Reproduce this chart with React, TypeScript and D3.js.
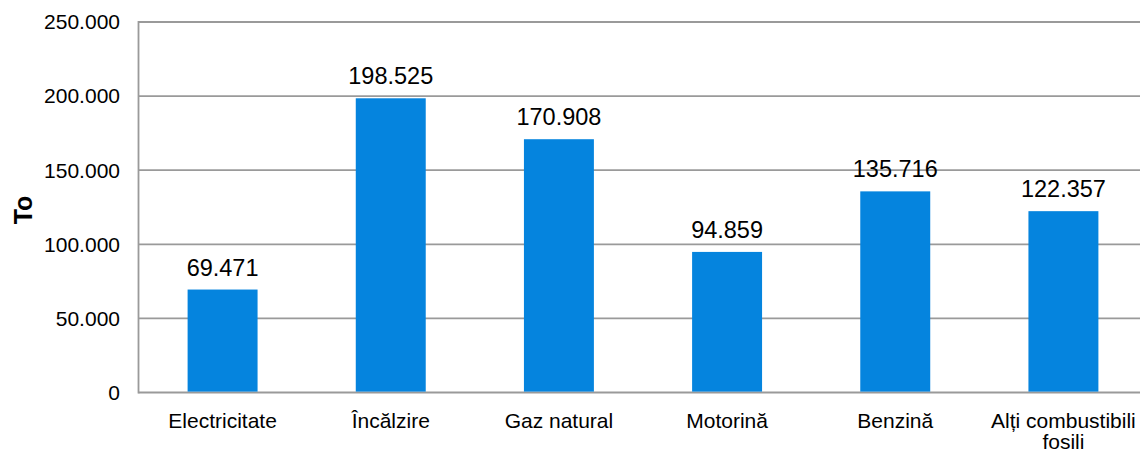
import React from "react";
import * as d3 from "d3";

const categories = ["Electricitate", "Încălzire", "Gaz natural", "Motorină", "Benzină", "Alți combustibili fosili"];
const categoryLines = [["Electricitate"], ["Încălzire"], ["Gaz natural"], ["Motorină"], ["Benzină"], ["Alți combustibili", "fosili"]];
const values = [69471, 198525, 170908, 94859, 135716, 122357];
const yTicks = [0, 50000, 100000, 150000, 200000, 250000];
const yLabel = "To";

const W = 1140;
const H = 452;
const FONT = "'Liberation Sans', Arial, Helvetica, sans-serif";

const fmt = (v: number) => {
  if (v === 0) return "0";
  const s = Math.round(v).toString();
  return s.replace(/\B(?=(\d{3})+(?!\d))/g, ".");
};

export default function App() {
  const x = d3
    .scaleBand<string>()
    .domain(categories)
    .range([138.5, 1147.5])
    .paddingInner(0.584)
    .paddingOuter(0.292);
  const y = d3.scaleLinear().domain([0, 250000]).range([392.5, 22]);
  const left = 138.5;

  return (
    <svg
      width={W}
      height={H}
      viewBox={`0 0 ${W} ${H}`}
      style={{ position: "absolute", left: 0, top: 0, background: "#fff" }}
      fontFamily={FONT}
    >
      {yTicks.map((t) => (
        <g key={t}>
          <line x1={left} x2={W} y1={y(t)} y2={y(t)} stroke="#9a9a9a" strokeWidth={1.8} />
          <text x={120} y={y(t)} dy="0.35em" textAnchor="end" fontSize={21} fill="#000">
            {fmt(t)}
          </text>
        </g>
      ))}
      <line x1={left} x2={left} y1={y(250000) - 0.9} y2={y(0) + 0.9} stroke="#9a9a9a" strokeWidth={1.8} />
      {categories.map((c, i) => {
        const bx = x(c) as number;
        const bw = x.bandwidth();
        const cx = bx + bw / 2;
        return (
          <g key={c}>
            <rect x={bx} y={y(values[i])} width={bw} height={y(0) - y(values[i]) - 0.9} fill="#0584de" />
            <text x={cx} y={y(values[i]) - 14} textAnchor="middle" fontSize={23.5} fill="#000">
              {fmt(values[i])}
            </text>
            <text textAnchor="middle" fontSize={21} fill="#000">
              {categoryLines[i].map((ln, j) => (
                <tspan key={j} x={cx} y={428 + j * 21}>
                  {ln}
                </tspan>
              ))}
            </text>
          </g>
        );
      })}
      <text
        transform={`translate(32, 210) rotate(-90)`}
        textAnchor="middle"
        fontSize={25}
        fontWeight="bold"
        fill="#000"
      >
        {yLabel}
      </text>
    </svg>
  );
}
